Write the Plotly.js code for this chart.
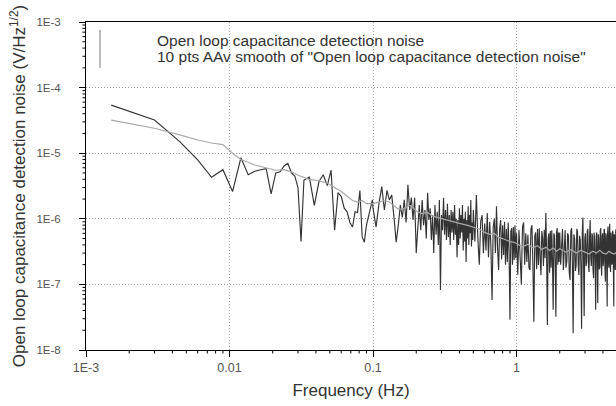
<!DOCTYPE html>
<html>
<head>
<meta charset="utf-8">
<script src="https://cdn.plot.ly/plotly-3.0.1.min.js"></script>
<style>
  html, body { margin: 0; padding: 0; background: #fff; }
  #chart { width: 616px; height: 406px; }
</style>
</head>
<body>
<div id="chart"></div>
<script>
// ---- Data (frequency in Hz, noise in µV/√Hz) ----
const rawFreq = [
  0.0015,0.003,0.0045,0.006,0.0075,0.009,0.0105,0.012,0.0135,0.015,
  0.0165,0.018,0.0195,0.021,0.0225,0.024,0.0255,0.027,0.0285,0.030,
  0.0315,0.033,0.036,0.039,0.042,0.045,0.048,0.051,0.054,0.057,
  0.060,0.063,0.066,0.069,0.072,0.075,0.078,0.081,0.084,0.087,
  0.090,0.093,0.096,0.099,
  0.100,0.105,0.110,0.115,0.120,0.125,0.130,0.135,0.140,0.145,
  0.150,0.155,0.160,0.165,0.170,0.175,0.180,0.185,0.190,0.195,
  0.200,0.205,0.210,0.215,0.220,0.225,0.230,0.235,0.240,0.245,
  0.250,0.255,0.260,0.265,0.270,0.275,0.280,0.285,0.290,0.295,
  0.300,0.305,0.310,0.315,0.320,0.325,0.330,0.335,0.340,0.345,
  0.350,0.355,0.360,0.365,0.370,0.375,0.380,0.385,0.390,0.395,
  0.400,0.405,0.410,0.415,0.420,0.425,0.430,0.435,0.440,0.445,
  0.450,0.455,0.460,0.465,0.470,0.475,0.480,0.485,0.490,0.495,
  0.500,0.5125,0.525,0.5375,0.55,0.5625,0.575,0.5875,0.6,0.6125,
  0.625,0.6375,0.65,0.6625,0.675,0.6875,0.7,0.7125,0.725,0.7375,
  0.75,0.7625,0.775,0.7875,0.8,0.8125,0.825,0.8375,0.85,0.8625,
  0.875,0.8875,0.9,0.9125,0.925,0.9375,0.95,0.9625,0.975,0.9875,
  1.00,1.02,1.04,1.06,1.08,1.10,1.12,1.14,1.16,1.18,
  1.20,1.22,1.24,1.26,1.28,1.30,1.32,1.34,1.36,1.38,
  1.40,1.42,1.44,1.46,1.48,1.50,1.52,1.54,1.56,1.58,
  1.60,1.62,1.64,1.66,1.68,1.70,1.72,1.74,1.76,1.78,
  1.80,1.82,1.84,1.86,1.88,1.90,1.92,1.94,1.96,1.98,
  2.00,2.03,2.06,2.09,2.12,2.15,2.18,2.21,2.24,2.27,
  2.30,2.33,2.36,2.39,2.42,2.45,2.48,2.51,2.54,2.57,
  2.60,2.63,2.66,2.69,2.72,2.75,2.78,2.81,2.84,2.87,
  2.90,2.93,2.96,2.99,3.02,3.05,3.08,3.11,3.14,3.17,
  3.20,3.23,3.26,3.29,3.32,3.35,3.38,3.41,3.44,3.47,
  3.50,3.53,3.56,3.59,3.62,3.65,3.68,3.71,3.74,3.77,
  3.80,3.83,3.86,3.89,3.92,3.95,3.98,4.01,4.04,4.07,
  4.10,4.13,4.16,4.19,4.22,4.25,4.28,4.31,4.34,4.37,
  4.40,4.43,4.46,4.49,4.52,4.55,4.58,4.61,4.64,4.67,
  4.70,4.73,4.76,4.79,4.82,4.85,4.88,4.91,4.94,4.97,
  5.00
];
const rawNoise_uV = [
  54,32,15,7.9,4.3,5.6,2.6,8.5,4.7,5.3,
  5.6,5.8,2.4,5.0,5.2,6.4,7.0,5.0,4.5,3.0,
  0.45,3.9,4.3,1.6,3.7,4.7,3.2,5.5,0.67,2.5,
  2.2,1.45,1.28,0.88,0.75,1.28,1.25,2.7,0.53,0.44,
  0.8,1.05,1.45,1.94,
  1.45,0.75,1.7,3.1,1.36,2.7,1.94,2.3,1.05,0.44,
  0.8,1.62,1.05,1.94,0.88,3.3,1.36,2.1,0.96,2.1,
  0.3,0.88,1.62,0.67,1.94,0.8,1.36,0.5,2.5,0.96,
  1.45,0.475,1.14,0.3,1.62,0.57,1.28,0.4,1.94,0.082,
  1.14,0.67,2.1,0.57,1.36,0.475,1.7,0.53,1.14,0.4,
  1.36,0.62,1.28,0.475,1.62,0.57,1.0,0.26,0.96,0.4,
  1.45,0.5,1.14,0.62,1.62,0.33,1.0,0.45,1.28,0.22,
  0.96,0.5,1.55,0.4,1.14,0.6,1.94,0.38,0.88,0.475,
  1.36,0.45,2.3,0.5,0.2,0.9,1.14,0.3,0.85,0.33,
  1.22,0.26,0.9,0.4,0.058,0.75,1.0,0.3,1.55,0.35,
  0.166,0.7,0.96,0.24,0.8,0.28,0.9,0.2,0.7,0.22,
  0.88,0.3,0.029,0.65,0.72,0.2,0.75,0.235,0.8,0.25,
  0.6,0.14,0.67,0.25,0.1,0.75,0.88,0.2,0.6,0.22,
  0.57,0.18,0.166,0.7,0.8,0.2,0.027,0.55,0.62,0.17,
  0.7,0.198,0.72,0.25,0.139,0.65,0.5,0.19,0.68,0.25,
  1.22,0.3,0.024,0.5,0.6,0.15,0.65,0.18,0.67,0.22,
  0.041,0.6,0.55,0.2,0.032,0.62,0.72,0.2,0.62,0.22,
  0.62,0.2,0.475,0.7,0.166,0.55,0.67,0.18,0.22,0.6,
  0.55,0.15,0.117,0.65,0.72,0.2,0.018,0.58,0.5,0.16,
  0.19,0.7,0.62,0.2,0.139,0.55,0.475,0.17,0.021,0.6,
  1.05,0.22,0.033,0.5,0.6,0.19,0.22,0.65,0.7,0.2,
  0.155,0.55,0.96,0.25,0.19,0.6,0.55,0.17,0.125,0.62,
  0.475,0.2,0.041,0.55,0.62,0.22,0.052,0.58,0.5,0.17,
  0.18,0.65,0.72,0.2,0.135,0.55,0.6,0.19,0.22,0.7,
  0.67,0.18,0.11,0.6,0.55,0.2,0.046,0.62,0.76,0.22,
  0.18,0.6,0.84,0.19,0.155,0.62,0.5,0.2,0.21,0.66,
  0.62,0.17,0.046,0.58,0.55,0.2,0.166,0.64,0.7,0.19,
  0.235
];
const smoothFreq = [
  0.0015,0.003,0.0045,0.006,0.0075,0.009,0.0105,0.012,0.015,0.018,
  0.021,0.024,0.027,0.030,0.036,0.042,0.048,0.054,0.060,0.066,
  0.072,0.078,0.084,0.090,0.100,0.110,0.120,0.130,0.140,0.150,
  0.160,0.170,0.180,0.190,0.200,0.220,0.240,0.260,0.280,0.300,
  0.330,0.360,0.400,0.450,0.500,0.550,0.600,0.650,0.700,0.750,
  0.800,0.850,0.900,0.950,1.00,1.10,1.20,1.30,1.40,1.50,
  1.60,1.70,1.80,1.90,2.00,2.20,2.40,2.60,2.80,3.00,
  3.20,3.40,3.60,3.80,4.00,4.20,4.40,4.60,4.80,5.00
];
const smoothNoise_uV = [
  32,24,19,15.9,14.3,13.5,10,8,6.6,6.0,
  5.5,5.6,5.2,4.6,4.0,3.8,3.5,3.0,2.6,2.2,
  1.9,1.8,1.9,1.7,1.7,1.8,1.9,1.8,1.6,1.4,
  1.4,1.5,1.6,1.5,1.3,1.2,1.25,1.1,1.05,1.0,
  0.95,0.9,0.85,0.8,0.75,0.7,0.62,0.58,0.6,0.52,
  0.5,0.47,0.45,0.44,0.42,0.37,0.41,0.36,0.39,0.34,
  0.37,0.33,0.36,0.32,0.35,0.31,0.34,0.30,0.33,0.31,
  0.29,0.32,0.30,0.33,0.30,0.29,0.32,0.30,0.29,0.31
];
const xTickVals = [0.001, 0.01, 0.1, 1];
const xTickText = ['1E-3', '0.01', '0.1', '1'];
const yTickVals = [1e-8, 1e-7, 1e-6, 1e-5, 1e-4, 1e-3];
const yTickText = ['1E-8', '1E-7', '1E-6', '1E-5', '1E-4', '1E-3'];
const legendLabels = [
  'Open loop capacitance detection noise',
  '10 pts AAv smooth of "Open loop capacitance detection noise"'
];

// unit conversion µV/√Hz -> V/√Hz
const toV = a => a.map(v => v * 1e-6);

const FONT = 'Liberation Sans, Arial, sans-serif';
const XR = [-3, 0.693], YR = [-8, -3];
const PW = 530, PH = 328;   // plot area size in px

// minor tick marks (2..9 per decade), placed in paper space from the axis ranges
const minorShapes = [];
for (let e = -3; e < 1; e++) for (let m = 2; m <= 9; m++) {
  const px = (e + Math.log10(m) - XR[0]) / (XR[1] - XR[0]);
  if (px > 1) continue;
  minorShapes.push({ type: 'line', xref: 'paper', yref: 'paper', x0: px, x1: px, y0: 0, y1: -3.5 / PH,
    line: { color: '#000', width: 1 }, layer: 'above' });
}
for (let e = -8; e < -3; e++) for (let m = 2; m <= 9; m++) {
  const py = (e + Math.log10(m) - YR[0]) / (YR[1] - YR[0]);
  minorShapes.push({ type: 'line', xref: 'paper', yref: 'paper', x0: 0, x1: -3.5 / PW, y0: py, y1: py,
    line: { color: '#000', width: 1 }, layer: 'above' });
}

const traces = [
  {
    x: rawFreq, y: toV(rawNoise_uV), type: 'scatter', mode: 'lines',
    line: { color: '#333333', width: 1.15 }, name: legendLabels[0], showlegend: false
  },
  {
    x: smoothFreq, y: toV(smoothNoise_uV), type: 'scatter', mode: 'lines',
    line: { color: '#a8a8a8', width: 1.2 }, name: legendLabels[1], showlegend: false
  }
];

const layout = {
  width: 616, height: 406,
  margin: { l: 86, r: 0, t: 22, b: 56 },
  paper_bgcolor: '#fff', plot_bgcolor: '#fff',
  font: { family: FONT, color: '#333' },
  xaxis: {
    type: 'log', range: XR, zeroline: false, automargin: false,
    tickmode: 'array', tickvals: xTickVals, ticktext: xTickText,
    ticks: 'outside', ticklen: 6, tickcolor: '#000', tickwidth: 1,
    showline: true, linecolor: '#000', linewidth: 1, mirror: true,
    showgrid: true, gridcolor: '#999999', griddash: '1px,2px', gridwidth: 1,
    tickfont: { family: FONT, size: 12.5, color: '#555' },
    title: { text: 'Frequency (Hz)', font: { family: FONT, size: 17, color: '#333' }, standoff: 10 }
  },
  yaxis: {
    type: 'log', range: YR, zeroline: false, automargin: false,
    tickmode: 'array', tickvals: yTickVals, ticktext: yTickText,
    ticks: 'outside', ticklen: 6, tickcolor: '#000', tickwidth: 1, ticklabelstandoff: 16,
    showline: true, linecolor: '#000', linewidth: 1,
    showgrid: true, gridcolor: '#999999', griddash: '1px,2px', gridwidth: 1,
    tickfont: { family: FONT, size: 11.5, color: '#555' },
    title: { text: 'Open loop capacitance detection noise (V/Hz<sup>1/2</sup>)', font: { family: FONT, size: 17, color: '#333' }, standoff: 6 }
  },
  shapes: [
    { type: 'line', xref: 'paper', yref: 'paper', x0: 0.0264, x1: 0.0264, y0: 0.976, y1: 0.860,
      line: { color: '#777', width: 1 } }
  ].concat(minorShapes),
  annotations: [
    { xref: 'paper', yref: 'paper', x: 0.13, y: 0.945, xanchor: 'left', yanchor: 'middle',
      text: legendLabels[0], showarrow: false, font: { family: FONT, size: 15.5, color: '#333' } },
    { xref: 'paper', yref: 'paper', x: 0.13, y: 0.896, xanchor: 'left', yanchor: 'middle',
      text: legendLabels[1], showarrow: false, font: { family: FONT, size: 15.5, color: '#333' } }
  ]
};

Plotly.newPlot('chart', traces, layout, { staticPlot: true, displayModeBar: false });
</script>
</body>
</html>
